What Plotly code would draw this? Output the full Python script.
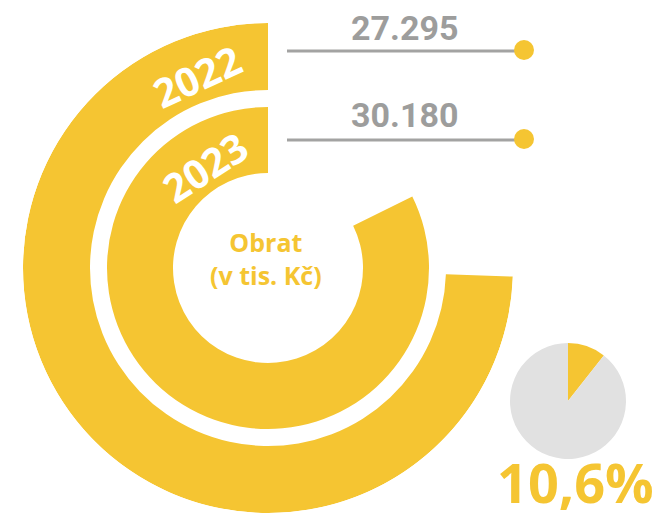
import plotly.graph_objects as go

# ---- data ----
years = ["2022", "2023"]
obrat = [27295, 30180]            # turnover in thousands CZK
obrat_labels = ["27.295", "30.180"]
growth_pct = 10.6                 # growth 2023 vs 2022
center_title = ["Obrat", "(v tis. Kč)"]

YELLOW = "#F5C532"
GREY_TXT = "#9D9D9C"
PIE_GREY = "#E1E1E1"

W, H = 667, 522
OFF = 8  # page body margin in the browser
full_circle_value = obrat[0] * 360 / 268.0   # value that would fill a full ring


def sweep(v):
    return v / full_circle_value * 360.0


def px(x):
    return (x - OFF) / W


def py(y):
    return (H - (y - OFF)) / H


# ring geometry (radial axis units = px)
ring_base = [178, 95]
ring_thick = [67, 66]

fig = go.Figure()
for i, (y, v) in enumerate(zip(years, obrat)):
    s = sweep(v)
    fig.add_trace(go.Barpolar(
        r=[ring_thick[i]], base=[ring_base[i]], theta=[s / 2], width=[s],
        marker=dict(color=YELLOW, line=dict(width=0)),
        hoverinfo="skip", showlegend=False, name=y,
    ))

cx, cy, R = 268, 268, 245
fig.update_layout(
    width=W, height=H, margin=dict(l=0, r=0, t=0, b=0),
    paper_bgcolor="white", plot_bgcolor="white",
    polar=dict(
        domain=dict(x=[px(cx - R), px(cx + R)], y=[py(cy + R), py(cy - R)]),
        bgcolor="rgba(0,0,0,0)",
        radialaxis=dict(range=[0, R], visible=False),
        angularaxis=dict(rotation=90, direction="counterclockwise", visible=False),
    ),
)

# small pie with growth
fig.add_trace(go.Pie(
    values=[growth_pct, 100 - growth_pct], sort=False, direction="clockwise",
    rotation=0, marker=dict(colors=[YELLOW, PIE_GREY], line=dict(width=0)),
    textinfo="none", hoverinfo="skip", showlegend=False,
    domain=dict(x=[px(510), px(626)], y=[py(459), py(343)]),
))

# value labels, connector lines and dots
label_y = [28, 115]
line_y = [51, 140]
for i in range(len(years)):
    fig.add_annotation(x=px(404), y=py(label_y[i]), xref="paper", yref="paper",
                       text="<b>" + obrat_labels[i] + "</b>", showarrow=False,
                       font=dict(family="Roboto", size=34, color=GREY_TXT),
                       xanchor="center", yanchor="middle", borderpad=0)
    fig.add_shape(type="line", xref="paper", yref="paper",
                  x0=px(287), x1=px(518), y0=py(line_y[i]), y1=py(line_y[i]),
                  line=dict(color="#A3A3A2", width=3))
    fig.add_shape(type="circle", xref="paper", yref="paper",
                  x0=px(514), x1=px(534), y0=py(line_y[i] - 1 + 10), y1=py(line_y[i] - 1 - 10),
                  fillcolor=YELLOW, line=dict(width=0))

# year labels on rings
year_pos = [(196, 76, -25), (204, 167, -33)]
for i, y in enumerate(years):
    x0, y0, ang = year_pos[i]
    fig.add_annotation(x=px(x0), y=py(y0), xref="paper", yref="paper",
                       text="<b>" + y + "</b>", showarrow=False, textangle=ang,
                       font=dict(family="Open Sans", size=40, color="white"),
                       xanchor="center", yanchor="middle")

# center title
fig.add_annotation(x=px(266), y=py(259), xref="paper", yref="paper",
                   text="<b>" + "<br>".join(center_title) + "</b>", showarrow=False,
                   font=dict(family="Open Sans", size=25, color=YELLOW),
                   xanchor="center", yanchor="middle")

# growth label
fig.add_annotation(x=px(575), y=py(482), xref="paper", yref="paper",
                   text="<b>" + f"{growth_pct:.1f}".replace(".", ",") + "%</b>",
                   showarrow=False,
                   font=dict(family="Open Sans", size=54, color=YELLOW),
                   xanchor="center", yanchor="middle", borderpad=0)

fig.write_html("out.html")
